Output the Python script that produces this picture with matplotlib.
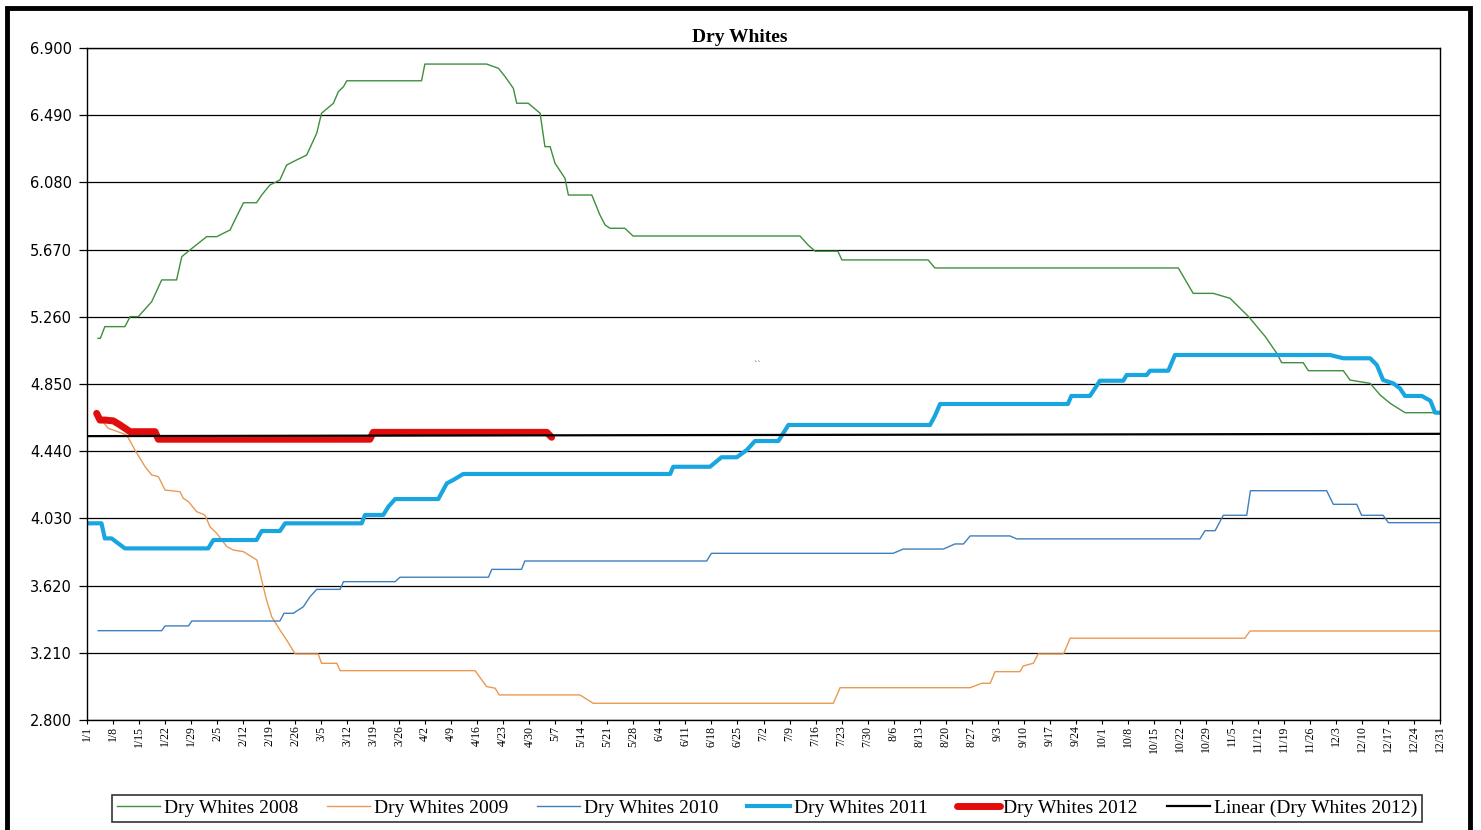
import matplotlib
matplotlib.use("Agg")
import matplotlib.pyplot as plt
from matplotlib.patches import Rectangle
import numpy as np

# day of year (0 = 1/1) and price at each break point
dw2008_days = [3.0, 3.6, 4.8, 10.2, 11.6, 13.8, 17.4, 20.1, 24.1, 25.5,
               27.7, 32.2, 34.9, 38.5, 39.8, 42.1, 45.6, 47.0, 49.2, 51.9,
               53.7, 56.4, 59.1, 61.8, 63.1, 66.3, 67.6, 69.0, 69.9, 90.0,
               90.9, 107.5, 110.7, 112.5, 114.7, 115.6, 118.7, 121.9, 123.2, 124.6,
               125.9, 128.6, 129.5, 135.8, 138.0, 139.4, 140.7, 144.7, 146.9, 191.8,
               194.0, 195.9, 202.0, 203.1, 226.3, 228.1, 293.6, 297.6, 303.0, 307.5,
               312.5, 317.0, 320.1, 321.4, 327.2, 328.6, 338.0, 339.8, 345.2, 347.9,
               350.6, 354.6, 362.2]
dw2008_vals = [5.129, 5.129, 5.200, 5.200, 5.261, 5.261, 5.352, 5.485, 5.485, 5.627,
               5.668, 5.749, 5.749, 5.790, 5.851, 5.956, 5.956, 6.003, 6.064, 6.095,
               6.186, 6.217, 6.247, 6.380, 6.502, 6.563, 6.633, 6.664, 6.700, 6.700,
               6.802, 6.802, 6.776, 6.725, 6.654, 6.563, 6.563, 6.502, 6.298, 6.298,
               6.197, 6.105, 6.003, 6.003, 5.881, 5.820, 5.800, 5.800, 5.753, 5.753,
               5.698, 5.660, 5.660, 5.607, 5.607, 5.558, 5.558, 5.403, 5.403, 5.373,
               5.261, 5.139, 5.037, 4.980, 4.980, 4.931, 4.931, 4.874, 4.854, 4.783,
               4.732, 4.675, 4.675]

dw2009_days = [3.5, 5.7, 10.7, 12.9, 15.6, 17.4, 19.2, 21.0, 25.0, 25.9,
               27.3, 29.5, 31.7, 33.1, 34.9, 37.6, 39.4, 42.1, 45.7, 47.0,
               48.3, 49.7, 51.9, 53.7, 56.0, 62.2, 63.1, 67.2, 68.1, 104.4,
               107.5, 109.8, 110.9, 132.6, 136.2, 200.8, 202.6, 237.6, 240.7, 243.0,
               244.3, 251.0, 251.9, 254.6, 255.9, 262.7, 264.5, 311.5, 312.9, 364]
dw2009_vals = [4.640, 4.580, 4.539, 4.447, 4.346, 4.295, 4.285, 4.203, 4.193, 4.153,
               4.132, 4.071, 4.051, 3.979, 3.939, 3.858, 3.837, 3.827, 3.776, 3.654,
               3.532, 3.430, 3.349, 3.288, 3.203, 3.203, 3.146, 3.146, 3.101, 3.101,
               3.004, 2.994, 2.953, 2.953, 2.902, 2.902, 2.997, 2.997, 3.024, 3.024,
               3.095, 3.095, 3.130, 3.146, 3.203, 3.203, 3.299, 3.299, 3.343, 3.343]

dw2010_days = [3.0, 20.1, 21.0, 27.3, 28.2, 51.9, 53.0, 55.5, 58.2, 60.0,
               61.8, 68.1, 69.0, 82.9, 84.2, 108.0, 108.9, 116.9, 117.8, 166.7,
               168.0, 216.9, 219.6, 230.4, 233.5, 235.8, 237.6, 248.3, 250.1, 299.4,
               300.8, 303.5, 305.7, 312.0, 313.0, 333.5, 335.3, 341.6, 342.9, 348.7,
               350.1, 364]
dw2010_vals = [3.345, 3.345, 3.374, 3.374, 3.404, 3.404, 3.451, 3.451, 3.491, 3.552,
               3.597, 3.597, 3.644, 3.644, 3.671, 3.671, 3.719, 3.719, 3.770, 3.770,
               3.817, 3.817, 3.843, 3.843, 3.874, 3.874, 3.923, 3.923, 3.905, 3.905,
               3.955, 3.955, 4.049, 4.049, 4.199, 4.199, 4.116, 4.116, 4.049, 4.049,
               4.004, 4.004]

dw2011_days = [0, 3.9, 4.8, 6.6, 10.2, 32.6, 34.0, 45.6, 47.0, 51.9,
               53.3, 73.9, 74.8, 79.7, 81.1, 82.9, 94.5, 96.8, 98.5, 101.2,
               156.9, 157.7, 167.6, 170.7, 174.8, 177.5, 179.7, 186.0, 188.7, 226.8,
               228.1, 229.5, 263.9, 264.8, 269.8, 271.2, 272.5, 278.8, 279.7, 285.1,
               286.0, 290.9, 292.7, 334.4, 338.0, 345.2, 347.0, 348.7, 351.4, 353.2,
               354.6, 359.1, 361.4, 362.7, 364]
dw2011_vals = [4.000, 4.000, 3.908, 3.908, 3.847, 3.847, 3.898, 3.898, 3.953, 3.953,
               4.000, 4.000, 4.051, 4.051, 4.102, 4.148, 4.148, 4.244, 4.264, 4.301,
               4.301, 4.345, 4.345, 4.403, 4.403, 4.447, 4.502, 4.502, 4.600, 4.600,
               4.655, 4.728, 4.728, 4.777, 4.777, 4.824, 4.870, 4.870, 4.905, 4.905,
               4.931, 4.931, 5.027, 5.027, 5.007, 5.007, 4.966, 4.874, 4.854, 4.824,
               4.777, 4.777, 4.748, 4.675, 4.675]

dw2012_days = [2.6, 3.5, 4.8, 7.1, 8.9, 11.6, 18.3, 19.2, 76.1, 77.0, 123.7, 125.0]
dw2012_vals = [4.671, 4.630, 4.630, 4.625, 4.600, 4.559, 4.559, 4.513, 4.513,
               4.555, 4.555, 4.525]

# linear trend of 2012 (start / end of year)
trend_days = [0, 364]
trend_vals = [4.532, 4.546]

week_labels = ["1/1", "1/8", "1/15", "1/22", "1/29", "2/5", "2/12", "2/19", "2/26",
               "3/5", "3/12", "3/19", "3/26", "4/2", "4/9", "4/16", "4/23", "4/30",
               "5/7", "5/14", "5/21", "5/28", "6/4", "6/11", "6/18", "6/25", "7/2",
               "7/9", "7/16", "7/23", "7/30", "8/6", "8/13", "8/20", "8/27", "9/3",
               "9/10", "9/17", "9/24", "10/1", "10/8", "10/15", "10/22", "10/29",
               "11/5", "11/12", "11/19", "11/26", "12/3", "12/10", "12/17", "12/24",
               "12/31"]
y_ticks = [2.8, 3.21, 3.62, 4.03, 4.44, 4.85, 5.26, 5.67, 6.08, 6.49, 6.9]

W, H = 1481, 830
fig = plt.figure(figsize=(W / 100, H / 100), dpi=100)
ax = fig.add_axes([87 / W, 1 - 720 / H, (1440 - 87) / W, (720 - 48) / H])

ax.plot(dw2008_days, dw2008_vals, color="#3d8f3d", lw=1.0, label="Dry Whites 2008")
ax.plot(dw2009_days, dw2009_vals, color="#e99a52", lw=1.0, label="Dry Whites 2009")
ax.plot(dw2010_days, dw2010_vals, color="#3f7fbd", lw=1.0, label="Dry Whites 2010")
ax.plot(dw2011_days, dw2011_vals, color="#19a6e0", lw=3.0, label="Dry Whites 2011")
ax.plot(dw2012_days, dw2012_vals, color="#e20c0c", lw=5.0, label="Dry Whites 2012",
        solid_capstyle="round", solid_joinstyle="round")
ax.plot(trend_days, trend_vals, color="black", lw=1.6, label="Linear (Dry Whites 2012)")

ax.set_xlim(0, 364)
ax.set_ylim(2.8, 6.9)
ax.set_yticks(y_ticks)
ax.set_yticklabels(["%.3f" % v for v in y_ticks], fontsize=10.5, family="DejaVu Sans")
ax.yaxis.grid(True, color="black", lw=0.9)
ax.set_axisbelow(True)

xt = list(range(0, 364, 7)) + [364]
ax.set_xticks(xt)
ax.set_xticklabels(week_labels, rotation=90, fontsize=8.5, family="Liberation Serif")
ax.tick_params(axis="x", length=3, width=0.8, pad=1)
ax.tick_params(axis="y", length=6, width=0.9, pad=5)
for s in ax.spines.values():
    s.set_linewidth(1.0)

# stray mark in the plot area
ax.text(180.5, 4.96, "``", fontsize=6, color="#555555", ha="center", va="center")

fig.text(740 / W, 1 - 37 / H, "Dry Whites", ha="center", va="center",
         fontsize=14, fontweight="bold", family="Liberation Serif")

leg = fig.legend(loc="center", bbox_to_anchor=(767 / W, 1 - 808.5 / H), ncol=6,
                 frameon=True, fancybox=False, edgecolor="black",
                 prop={"family": "Liberation Serif", "size": 14},
                 handlelength=2.2, handletextpad=0.2, columnspacing=1.5,
                 borderpad=0.25)
leg.get_frame().set_linewidth(1.2)

# thick outer frame of the chart area
fig.patches.append(Rectangle((7 / W, -0.05), (1470 - 7) / W, 1.05 - 8 / H,
                             transform=fig.transFigure, fill=False,
                             edgecolor="black", lw=3.5))

fig.savefig("out.png", dpi=100)
